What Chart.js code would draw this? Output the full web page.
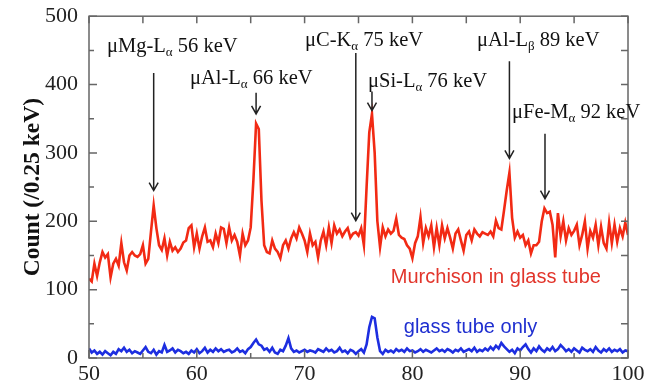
<!DOCTYPE html>
<html>
<head>
<meta charset="utf-8">
<script src="https://cdn.jsdelivr.net/npm/chart.js@4.4.1/dist/chart.umd.min.js"></script>
<style>
  html, body { margin: 0; padding: 0; background: #fff; }
  #wrap { width: 657px; height: 380px; }
</style>
</head>
<body>
<div id="wrap"><canvas id="specChart" width="657" height="380"></canvas></div>
<script>
// Spektrum: bin 0.25 keV dari 50 sampai 100 keV
const binStart = 50;
const binWidth = 0.25;

// Murchison in glass tube (merah)
const murchison = [
  116, 112, 138, 120, 140, 155, 147, 152, 118, 138,   // 50.00 - 52.25
  145, 135, 168, 140, 128, 150, 155, 150, 148, 152,   // 52.50 - 54.75
  165, 138, 145, 185, 223, 190, 165, 158, 175, 150,   // 55.00 - 57.25
  170, 157, 162, 155, 160, 169, 172, 190, 194, 162,   // 57.50 - 59.75
  182, 160, 178, 191, 170, 172, 162, 182, 168, 191,   // 60.00 - 62.25
  189, 168, 191, 172, 180, 170, 150, 182, 165, 172,   // 62.50 - 64.75
  191, 260, 343, 335, 230, 165, 155, 153, 172, 160,   // 65.00 - 67.25
  155, 146, 165, 172, 160, 175, 184, 175, 191, 182,   // 67.50 - 69.75
  172, 155, 182, 165, 170, 147, 172, 185, 165, 191,   // 70.00 - 72.25
  168, 194, 182, 188, 178, 185, 190, 176, 182, 184,   // 72.50 - 74.75
  179, 190, 165, 250, 330, 357, 300, 200, 162, 191,   // 75.00 - 77.25
  178, 188, 182, 186, 204, 180, 176, 174, 165, 160,   // 77.50 - 79.75
  146, 168, 178, 206, 168, 190, 178, 194, 162, 190,   // 80.00 - 82.25
  165, 194, 175, 190, 176, 160, 182, 188, 172, 157,   // 82.50 - 84.75
  180, 185, 172, 188, 182, 178, 184, 182, 180, 185,   // 85.00 - 87.25
  178, 201, 190, 188, 216, 245, 271, 205, 176, 185,   // 87.50 - 89.75
  176, 180, 165, 172, 153, 165, 165, 170, 200, 219,   // 90.00 - 92.25
  212, 214, 195, 147, 212, 178, 200, 172, 190, 180,   // 92.50 - 94.75
  186, 195, 165, 180, 200, 160, 186, 176, 195, 165,   // 95.00 - 97.25
  192, 168, 160, 198, 168, 195, 170, 190, 178, 198,   // 97.50 - 99.75
  180                                                  // 100.00
];

// glass tube only (biru)
const glassTube = [
  14, 8, 11, 6, 9, 5, 10, 7, 4, 9,
  6, 13, 10, 15, 9, 12, 7, 10, 8, 6,
  11, 16, 9, 7, 12, 5, 10, 8, 19, 9,
  11, 14, 8, 12, 10, 7, 9, 6, 11, 8,
  13, 7, 10, 15, 8, 12, 9, 14, 10, 13,
  9, 11, 12, 8, 10, 14, 9, 11, 7, 13,
  16, 22, 27, 20, 18, 12, 14, 9, 15, 8,
  6, 12, 10, 18, 29, 14, 9, 11, 8, 10,
  12, 9, 11, 10, 8, 13, 11, 9, 14, 10,
  12, 8, 10, 15, 9, 11, 7, 12, 10, 6,
  10, 13, 8, 20, 45, 60, 58, 30, 10, 6,
  12, 9, 11, 8, 13, 10, 12, 9, 14, 10,
  11, 8, 10, 13, 9, 12, 10, 8, 11, 14,
  10, 12, 9, 13, 11, 8, 12, 10, 14, 9,
  11, 13, 10, 15, 9, 12, 10, 14, 11, 16,
  12, 18, 14, 22, 17, 13, 9, 12, 7, 14,
  11, 16, 20, 13, 8, 14, 10, 17, 12, 9,
  14, 11, 16, 10, 13, 19, 15, 10, 13, 9,
  14, 11, 8, 15, 12, 10, 13, 9, 16, 11,
  8, 13, 10, 14, 9, 12, 10, 13, 8, 11,
  10
];

// Label sumbu
const xTicks = [50, 60, 70, 80, 90, 100];
const yTicks = [0, 100, 200, 300, 400, 500];
const yTitle = 'Count (/0.25 keV)';

// Label puncak: teks, subscript, sisa
const peakNames = ['\u03bcMg-L', '\u03bcAl-L', '\u03bcC-K', '\u03bcSi-L', '\u03bcAl-L', '\u03bcFe-M'];
const peakSubs = ['\u03b1', '\u03b1', '\u03b1', '\u03b1', '\u03b2', '\u03b1'];
const peakEnergy = [' 56 keV', ' 66 keV', ' 75 keV', ' 76 keV', ' 89 keV', ' 92 keV'];

const serif = '"Liberation Serif", "Times New Roman", serif';
const sans = '"Liberation Sans", Arial, sans-serif';

// Posisi label dan panah (satuan data: keV, count)
const annoLayout = [
  { tx: 51.67, ty: 447, ax: 56.0, y0: 417, y1: 245 },
  { tx: 59.37, ty: 401, ax: 65.5, y0: 388, y1: 357 },
  { tx: 70.04, ty: 456, ax: 74.75, y0: 446, y1: 201 },
  { tx: 75.88, ty: 397, ax: 76.25, y0: 390, y1: 362 },
  { tx: 86.0, ty: 456, ax: 89.0, y0: 434, y1: 292 },
  { tx: 89.24, ty: 351, ax: 92.3, y0: 328, y1: 233 }
];

function toPoints(arr) {
  return arr.map((v, i) => ({ x: binStart + i * binWidth, y: v }));
}

// Plugin: bingkai, tick ke dalam, anotasi
const framePlugin = {
  id: 'frame',
  afterDraw(chart) {
    const c = chart.ctx;
    const a = chart.chartArea;
    const xs = chart.scales.x;
    const ys = chart.scales.y;
    c.save();
    c.strokeStyle = '#666';
    c.lineWidth = 1.5;
    c.strokeRect(a.left, a.top, a.right - a.left, a.bottom - a.top);

    c.beginPath();
    for (let v = 50; v <= 100; v += 5) {
      const px = xs.getPixelForValue(v);
      const len = v % 10 === 0 ? 8 : 5;
      c.moveTo(px, a.bottom);
      c.lineTo(px, a.bottom - len);
      c.moveTo(px, a.top);
      c.lineTo(px, a.top + 7);
    }
    for (let v = 0; v <= 500; v += 50) {
      const py = ys.getPixelForValue(v);
      const len = v % 100 === 0 ? 8 : 5;
      c.moveTo(a.left, py);
      c.lineTo(a.left + len, py);
      c.moveTo(a.right, py);
      c.lineTo(a.right - 7, py);
    }
    c.stroke();

    // anotasi puncak
    c.fillStyle = '#111';
    c.strokeStyle = '#222';
    c.lineWidth = 1.5;
    c.textBaseline = 'alphabetic';
    annoLayout.forEach((p, i) => {
      let x = xs.getPixelForValue(p.tx);
      const y = ys.getPixelForValue(p.ty);
      c.font = '20.5px ' + serif;
      c.fillText(peakNames[i], x, y);
      x += c.measureText(peakNames[i]).width;
      c.font = '13px ' + serif;
      c.fillText(peakSubs[i], x, y + 4);
      x += c.measureText(peakSubs[i]).width;
      c.font = '20.5px ' + serif;
      c.fillText(peakEnergy[i], x, y);

      const ax = xs.getPixelForValue(p.ax);
      const ay0 = ys.getPixelForValue(p.y0);
      const ay1 = ys.getPixelForValue(p.y1);
      c.beginPath();
      c.moveTo(ax, ay0);
      c.lineTo(ax, ay1);
      c.moveTo(ax - 4.5, ay1 - 8);
      c.lineTo(ax, ay1);
      c.lineTo(ax + 4.5, ay1 - 8);
      c.stroke();
    });

    // keterangan seri
    c.font = '20px ' + sans;
    c.fillStyle = '#e2352b';
    c.fillText('Murchison in glass tube', xs.getPixelForValue(78.0), ys.getPixelForValue(109));
    c.fillStyle = '#1f2fd0';
    c.fillText('glass tube only', xs.getPixelForValue(79.2), ys.getPixelForValue(36));
    c.restore();
  }
};

const ctx = document.getElementById('specChart').getContext('2d');
const chart = new Chart(ctx, {
  type: 'line',
  data: {
    datasets: [
      {
        label: 'Murchison in glass tube',
        data: toPoints(murchison),
        borderColor: '#f22a14',
        borderWidth: 2.6,
        pointRadius: 0,
        tension: 0
      },
      {
        label: 'glass tube only',
        data: toPoints(glassTube),
        borderColor: '#1d2ee0',
        borderWidth: 2.6,
        pointRadius: 0,
        tension: 0
      }
    ]
  },
  options: {
    responsive: false,
    animation: false,
    layout: { padding: { left: 0, right: 29, top: 15, bottom: 0 } },
    plugins: {
      legend: { display: false },
      tooltip: { enabled: false }
    },
    scales: {
      x: {
        type: 'linear',
        min: 50,
        max: 100,
        afterFit(s) { s.height = 22; },
        afterBuildTicks(s) { s.ticks = xTicks.map(v => ({ value: v })); },
        grid: { display: false },
        border: { display: false },
        ticks: {
          padding: -3,
          color: '#222',
          font: { family: serif, size: 22, lineHeight: 1 },
          maxRotation: 0
        }
      },
      y: {
        min: 0,
        max: 500,
        afterFit(s) { s.width = 89; },
        afterBuildTicks(s) { s.ticks = yTicks.map(v => ({ value: v })); },
        grid: { display: false },
        border: { display: false },
        ticks: {
          padding: 3,
          color: '#222',
          font: { family: serif, size: 22 }
        },
        title: {
          display: true,
          text: yTitle,
          color: '#111',
          font: { family: serif, size: 23.5, weight: 'bold' },
          padding: { top: 19, bottom: 0 }
        }
      }
    }
  },
  plugins: [framePlugin]
});
</script>
</body>
</html>
